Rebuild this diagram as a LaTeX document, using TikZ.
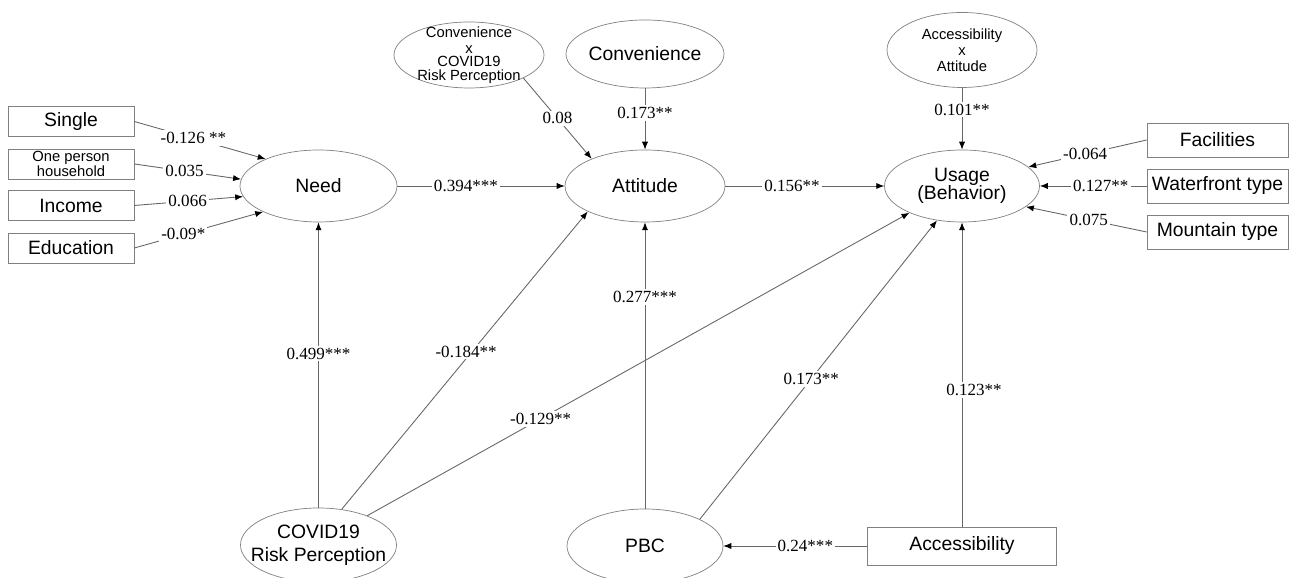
\documentclass[tikz,border=0pt]{standalone}
\usepackage{fontspec}
\setmainfont{Liberation Serif}
\setsansfont{Liberation Sans}
\usetikzlibrary{shapes.geometric,arrows.meta}

\begin{document}
\begin{tikzpicture}[
  latent/.style={draw=gray, ellipse, inner sep=-8pt, align=center, font=\sffamily\fontsize{11}{10.5}\selectfont},
  small/.style={font=\sffamily\fontsize{8.4}{8.5}\selectfont},
  obs/.style={draw=gray, rectangle, inner sep=0pt, align=center, font=\sffamily\fontsize{11}{12}\selectfont},
  coef/.style={fill=white, inner sep=1.2pt, font=\fontsize{9.7}{11}\selectfont},
  eff/.style={draw=gray!80!black, line width=0.5pt, -{Latex[length=4.5pt,width=3.5pt,color=black]}}
]
\useasboundingbox (0,0) rectangle (25.9,11.56);

\node[latent, minimum width=3.14cm, minimum height=1.44cm] (need) at (6.37, 7.84) {Need};
\node[latent, minimum width=3.2cm, minimum height=1.44cm] (att) at (12.9, 7.84) {Attitude};
\node[latent, minimum width=3.1cm, minimum height=1.44cm] (use) at (19.24, 7.84) {Usage\\(Behavior)};
\node[latent, small, minimum width=3cm, minimum height=1.32cm, font=\sffamily\fontsize{8.4}{9}\selectfont] (cxc) at (9.38, 10.46) {Convenience\\x\\[-1.5pt]COVID19\\[-1pt]Risk Perception};
\node[latent, minimum width=3.16cm, minimum height=1.36cm] (conv) at (12.9, 10.48) {Convenience};
\node[latent, small, minimum width=3cm, minimum height=1.5cm, font=\sffamily\fontsize{8.4}{9}\selectfont] (axa) at (19.24, 10.56) {Accessibility\\x\\Attitude};
\node[latent, minimum width=3.12cm, minimum height=1.48cm, font=\sffamily\fontsize{11}{13}\selectfont] (covid) at (6.37, 0.66) {COVID19\\Risk Perception};
\node[latent, minimum width=3.12cm, minimum height=1.48cm] (pbc) at (12.9, 0.64) {PBC};

\node[obs, minimum width=2.52cm, minimum height=0.6cm] (single) at (1.42, 9.13) {Single};
\node[obs, small, minimum width=2.52cm, minimum height=0.6cm] (one) at (1.42, 8.28) {One person\\household};
\node[obs, minimum width=2.52cm, minimum height=0.6cm] (income) at (1.42, 7.45) {Income};
\node[obs, minimum width=2.52cm, minimum height=0.6cm] (edu) at (1.42, 6.6) {Education};
\node[obs, minimum width=2.82cm, minimum height=0.68cm] (fac) at (24.35, 8.76) {Facilities};
\node[obs, minimum width=2.82cm, minimum height=0.68cm] (water) at (24.35, 7.84) {Waterfront type};
\node[obs, minimum width=2.82cm, minimum height=0.68cm] (mount) at (24.35, 6.92) {Mountain type};
\node[obs, minimum width=3.78cm, minimum height=0.76cm] (acc) at (19.24, 0.64) {Accessibility};

\draw[eff] (single.east) -- node[coef, pos=0.45] {-0.126 **} (need.153);
\draw[eff] (one.east) -- node[coef, pos=0.47] {0.035} (need.175);
\draw[eff] (income.east) -- node[coef, pos=0.49] {0.066} (need.188);
\draw[eff] (edu.east) -- node[coef, pos=0.38] {-0.09*} (need.205);
\draw[eff] (need) -- node[coef, pos=0.41] {0.394***} (att);
\draw[eff] (cxc.337) -- node[coef, pos=0.5] {0.08} (att.153);
\draw[eff] (conv) -- node[coef, pos=0.4] {0.173**} (att);
\draw[eff] (att) -- node[coef, pos=0.42] {0.156**} (use);
\draw[eff] (axa) -- node[coef, pos=0.35] {0.101**} (use);
\draw[eff] (fac.west) -- node[coef, pos=0.52] {-0.064} (use.16);
\draw[eff] (water) -- node[coef, pos=0.43] {0.127**} (use);
\draw[eff] (mount.west) -- node[coef, pos=0.48] {0.075} (use.342);
\draw[eff] (covid) -- node[coef, pos=0.54] {0.499***} (need);
\draw[eff] (covid.57) -- node[coef, pos=0.53, xshift=-0.12cm] {-0.184**} (att.204);
\draw[eff] (covid.31) -- node[coef, pos=0.32] {-0.129**} (use.207);
\draw[eff] (pbc) -- node[coef, pos=0.74] {0.277***} (att);
\draw[eff] (pbc.26) -- node[coef, pos=0.47] {0.173**} (use.234);
\draw[eff] (acc) -- node[coef, pos=0.45, xshift=0.24cm] {0.123**} (use);
\draw[eff] (acc) -- node[coef, pos=0.43] {0.24***} (pbc);

\end{tikzpicture}
\end{document}
